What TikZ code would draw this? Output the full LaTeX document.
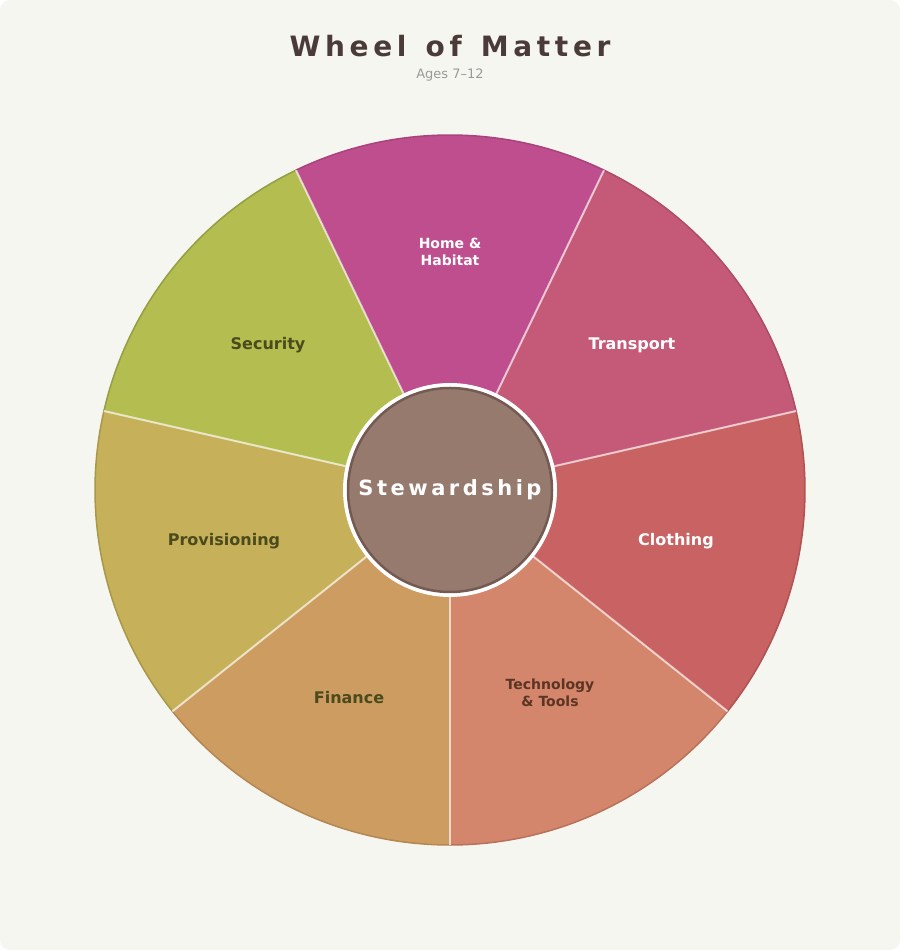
\documentclass[tikz,border=0pt]{standalone}
\usepackage{fontspec}
\setmainfont{DejaVu Sans}
\usetikzlibrary{calc}
\begin{document}
\begin{tikzpicture}[x=1pt,y=1pt,
  lbl/.style={font=\bfseries\fontsize{16}{18}\selectfont,align=center},
  lbls/.style={font=\bfseries\fontsize{14}{17}\selectfont,align=center},
  wl/.style={text=white},
  dl/.style={text=olv},
  radial/.style={draw=white,draw opacity=0.65,line width=2pt}]
\definecolor{bg}{HTML}{F6F6F1}
\definecolor{olv}{HTML}{4A4A1C}
\definecolor{brn}{HTML}{5C3424}
\definecolor{c0}{HTML}{BE4E8E}\definecolor{d0}{HTML}{A8437C}
\definecolor{c1}{HTML}{C45A78}\definecolor{d1}{HTML}{AC4C66}
\definecolor{c2}{HTML}{C96262}\definecolor{d2}{HTML}{B05252}
\definecolor{c3}{HTML}{D3866B}\definecolor{d3}{HTML}{B8725A}
\definecolor{c4}{HTML}{CD9C60}\definecolor{d4}{HTML}{B48652}
\definecolor{c5}{HTML}{C6B05A}\definecolor{d5}{HTML}{A8984A}
\definecolor{c6}{HTML}{B3BD50}\definecolor{d6}{HTML}{949E42}
\definecolor{ctr}{HTML}{967A6E}\definecolor{ctrb}{HTML}{745A52}
\definecolor{ttl}{HTML}{4A3B38}
\fill[white] (0,0) rectangle (900,950);
\fill[bg,rounded corners=10pt] (0,0) rectangle (900,950);
\useasboundingbox (0,0) rectangle (900,950);
\coordinate (c) at (450,460);
\foreach \k in {0,...,6}{
  \pgfmathsetmacro{\aa}{115.714-\k*51.4286}
  \pgfmathsetmacro{\ab}{\aa-51.4286}
  \fill[c\k] (c) -- ++(\aa:355) arc[start angle=\aa,end angle=\ab,radius=355] -- cycle;
  \draw[d\k,line width=1.5pt] ($(c)+(\aa:355)$) arc[start angle=\aa,end angle=\ab,radius=355];
}
\foreach \k in {0,...,6}{
  \pgfmathsetmacro{\aa}{115.714-\k*51.4286}
  \draw[radial] (c) -- ++(\aa:355);
}
\fill[white] (c) circle (107);
\filldraw[fill=ctr,draw=ctrb,line width=2.5pt] (c) circle (102);
\node[font=\bfseries\fontsize{21}{24}\selectfont,text=white] (s) at (c) {S\,t\,e\,w\,a\,r\,d\,s\,h\,i\,p};
\node[lbls,wl] (n0) at (450,698) {Home \&\\Habitat};
\node[lbl,wl] (n1) at (632,605) {Transport};
\node[lbl,wl] (n2) at (676,409) {Clothing};
\node[lbls,text=brn] (n3) at (550,257) {Technology\\\& Tools};
\node[lbl,dl] (n4) at (349,252) {Finance};
\node[lbl,dl] (n5) at (224,409) {Provisioning};
\node[lbl,dl] (n6) at (268,605) {Security};
\node[font=\bfseries\fontsize{28}{32}\selectfont,text=ttl] (t) at (450,904) {W\,h\,e\,e\,l\, \,o\,f\, \,M\,a\,t\,t\,e\,r};
\node[font=\fontsize{13}{15}\selectfont,text=gray!80] (st) at (450,875) {Ages 7–12};
\end{tikzpicture}
\end{document}
